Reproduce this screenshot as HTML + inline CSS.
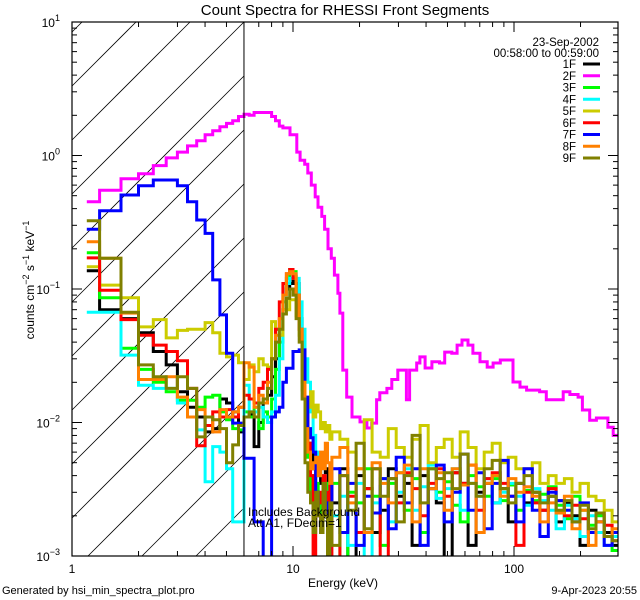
<!DOCTYPE html>
<html><head><meta charset="utf-8"><style>
html,body{margin:0;padding:0;background:#fff;width:640px;height:600px;overflow:hidden;}
svg{display:block;font-family:"Liberation Sans",sans-serif;}
</style></head><body>
<svg id="chart" width="640" height="600" viewBox="0 0 640 600" xmlns="http://www.w3.org/2000/svg">
<defs><clipPath id="plotclip"><rect x="72" y="22" width="546" height="534"/></clipPath></defs>
<text x="345" y="15" font-size="15" text-anchor="middle">Count Spectra for RHESSI Front Segments</text>
<g id="hatch"></g>
<g id="series" clip-path="url(#plotclip)"></g>
<g id="axes"></g>
<text transform="translate(34,280) rotate(-90)" font-size="12" text-anchor="middle">counts cm<tspan dy="-5" font-size="9">−2</tspan><tspan dy="5"> s</tspan><tspan dy="-5" font-size="9">−1</tspan><tspan dy="5"> keV</tspan><tspan dy="-5" font-size="9">−1</tspan></text>
<text x="343" y="587" font-size="12" text-anchor="middle">Energy (keV)</text>
<text x="248" y="516" font-size="12">Includes Background</text>
<text x="248" y="527" font-size="12">Att A1, FDecim=1</text>
<text x="599" y="46" font-size="11.5" text-anchor="end">23-Sep-2002</text>
<text x="599" y="57" font-size="11.5" text-anchor="end">00:58:00 to 00:59:00</text>
<g id="legend"></g>
<text x="2" y="594" font-size="11">Generated by hsi_min_spectra_plot.pro</text>
<text x="637" y="594" font-size="11" text-anchor="end">9-Apr-2023 20:55</text>
</svg>
<script>
var lowEdges=[1.167,1.333,1.667,2,2.333,2.667,3,3.333,3.667,4,4.333,4.667,5,5.333,5.667,6,6.333,6.667,7,7.333,7.667,8,8.333,8.667,9,9.333,9.667,10,10.33,10.67,11,11.33,11.67,12,12.33,12.67,13,13.33,13.67,14,14.33,14.67,15];
var hiEdges=[15,16.3,17.7,19.3,21,22.8,24.8,27,29.3,31.9,34.6,37.6,40.9,44.5,48.3,52.5,57.1,62,67.4,73.3,79.7,86.6,94.1,102,111,121,131,143,155,169,183,199,217,235,256,278,300];
var pinkEdges=[1.167,1.333,1.667,2,2.333,2.667,3,3.333,3.667,4,4.333,4.667,5,5.333,5.667,6,6.333,6.667,7,7.333,7.667,8,8.333,8.667,9,9.69,10.4,10.77,11.3,11.67,12.1,12.6,12.97,13.5,13.9,14.4,14.9,15.4,15.96,16.3,16.8,17.5,18.5,20.1,21.6,22.7,23.9,24.7,26.6,28.0,29.8,32.6,33.7,36.3,37.5,39.6,42.5,46.0,48.6,52.3,55.3,58.2,61.9,65.2,70.2,75.6,80.4,86.7,99,106.5,114,130.6,140,167,179,195,204,220,236,266,281,300];
var pinkVals=[0.45,0.55,0.67,0.73,0.84,0.96,1.06,1.18,1.29,1.43,1.53,1.64,1.74,1.82,1.96,2.04,2.0,2.1,2.1,2.1,2.1,1.96,1.82,1.66,1.61,1.43,1.06,0.92,0.86,0.74,0.60,0.49,0.41,0.35,0.28,0.20,0.17,0.127,0.093,0.066,0.0247,0.0155,0.011,0.0101,0.0091,0.0099,0.0148,0.0167,0.018,0.021,0.0247,0.0148,0.0247,0.0279,0.031,0.0256,0.0285,0.0279,0.0337,0.033,0.038,0.0415,0.038,0.033,0.0285,0.026,0.0279,0.0294,0.0201,0.0184,0.0175,0.017,0.0148,0.017,0.0162,0.0155,0.0124,0.0104,0.0108,0.0092,0.008];
var s1Low=[0.137,0.07,0.06,0.047,0.034,0.027,0.017,0.013,0.011,0.0085,0.009,0.015,0.014,0.012,0.0085,0.011,0.0115,0.0066,0.010,0.014,0.016,0.022,0.03,0.045,0.07,0.10,0.11,0.125,0.11,0.06,0.035,0.013,0.007,0.006,0.0045,0.004,0.005,0.0035,0.003,0.0045,0.0035,0.003];
var s1Hi=[0.0025,0.0045,0.0009,0.004,0.0032,0.0015,0.0022,0.0045,0.0028,0.0035,0.0012,0.004,0.0032,0.0025,0.0009,0.0042,0.0035,0.0012,0.003,0.0035,0.0025,0.0032,0.0018,0.0035,0.0025,0.003,0.0022,0.0028,0.0018,0.0025,0.002,0.0012,0.0022,0.0018,0.0015,0.0012];
var s3Low=[0.187,0.086,0.036,0.025,0.02,0.017,0.0147,0.0147,0.013,0.0155,0.016,0.012,0.0105,0.009,0.0088,0.012,0.011,0.013,0.009,0.012,0.011,0.015,0.025,0.04,0.08,0.12,0.14,0.135,0.1,0.05,0.02,0.008,0.0055,0.003,0.004,0.0035,0.0025,0.002,0.003,0.0035,0.0025,0.002];
var s3Hi=[0.0035,0.0008,0.003,0.0025,0.0045,0.0028,0.0012,0.0035,0.0042,0.0022,0.0038,0.0015,0.0045,0.003,0.0036,0.0024,0.0018,0.004,0.0033,0.0028,0.0038,0.0026,0.0034,0.0022,0.0031,0.0026,0.0029,0.0033,0.0024,0.0019,0.0028,0.0022,0.0017,0.002,0.0014,0.0011];
var s4Low=[0.067,0.067,0.032,0.019,0.018,0.018,0.014,0.011,0.0088,0.0036,0.0066,0.006,0.0045,0.0018,0.0018,0.019,0.012,0.012,0.013,0.011,0.010,0.012,0.016,0.03,0.07,0.11,0.12,0.13,0.12,0.08,0.05,0.03,0.02,0.012,0.008,0.006,0.005,0.004,0.004,0.003,0.003,0.0035];
var s4Hi=[0.002,0.0028,0.0012,0.0035,0.0008,0.0025,0.0038,0.0018,0.003,0.0045,0.0022,0.0033,0.0048,0.0027,0.0032,0.0045,0.0022,0.0035,0.0028,0.0038,0.0025,0.003,0.0035,0.0028,0.0024,0.0032,0.0026,0.0022,0.0016,0.0024,0.0019,0.0014,0.002,0.0015,0.0012,0.0014];
var s5Low=[0.147,0.107,0.086,0.052,0.059,0.043,0.049,0.05,0.05,0.056,0.047,0.033,0.031,0.032,0.028,0.021,0.027,0.024,0.03,0.027,0.026,0.057,0.05,0.045,0.07,0.07,0.083,0.083,0.063,0.045,0.0175,0.015,0.013,0.017,0.011,0.0135,0.012,0.009,0.01,0.0085,0.0095,0.0075];
var s5Hi=[0.0085,0.0075,0.006,0.0045,0.0105,0.006,0.0055,0.009,0.0065,0.0055,0.0075,0.0095,0.005,0.0065,0.0075,0.0055,0.0085,0.0065,0.0045,0.006,0.007,0.005,0.0055,0.0045,0.0045,0.005,0.0035,0.004,0.0035,0.0038,0.003,0.0035,0.0028,0.0026,0.0022,0.0018];
var s6Low=[0.171,0.098,0.059,0.045,0.038,0.034,0.029,0.018,0.0067,0.0095,0.012,0.011,0.0125,0.011,0.013,0.016,0.015,0.014,0.018,0.02,0.025,0.03,0.05,0.08,0.11,0.13,0.14,0.12,0.09,0.05,0.025,0.01,0.007,0.004,0.0008,0.002,0.003,0.0025,0.004,0.003,0.0008,0.0035];
var s6Hi=[0.0009,0.004,0.0028,0.0015,0.0032,0.0045,0.0008,0.0038,0.0025,0.0042,0.0032,0.002,0.0035,0.0045,0.0028,0.0042,0.0035,0.0048,0.0022,0.0038,0.0042,0.0035,0.0028,0.0012,0.003,0.0025,0.0022,0.0032,0.0026,0.002,0.0024,0.0019,0.0015,0.0021,0.0017,0.0013];
var s7Low=[0.28,0.386,0.506,0.594,0.655,0.655,0.594,0.45,0.329,0.261,0.117,0.064,0.033,0.0099,0.0099,0.0054,0.0054,0.0018,0.0018,0.0006,0.0006,0.011,0.012,0.013,0.02,0.0255,0.0255,0.034,0.034,0.035,0.035,0.0155,0.009,0.0077,0.006,0.003,0.002,0.0015,0.003,0.0025,0.0008,0.002];
var s7Hi=[0.0045,0.0015,0.0035,0.0012,0.0028,0.0021,0.0038,0.0016,0.0055,0.0025,0.0045,0.0012,0.0032,0.0048,0.0018,0.003,0.0058,0.0022,0.0042,0.0016,0.0035,0.0052,0.0028,0.0018,0.0045,0.0022,0.0014,0.003,0.0026,0.0022,0.0018,0.0025,0.0015,0.0018,0.0012,0.0015];
var s8Low=[0.226,0.17,0.066,0.021,0.021,0.022,0.0155,0.011,0.0125,0.011,0.0085,0.0125,0.011,0.012,0.013,0.028,0.026,0.013,0.016,0.014,0.02,0.03,0.045,0.06,0.09,0.13,0.135,0.13,0.09,0.05,0.02,0.009,0.006,0.0045,0.005,0.0055,0.004,0.006,0.0045,0.007,0.005,0.0035];
var s8Hi=[0.0055,0.0065,0.0025,0.0045,0.0015,0.005,0.0035,0.0025,0.0042,0.0048,0.0018,0.0045,0.0032,0.0042,0.0022,0.0045,0.0034,0.0048,0.0015,0.0035,0.004,0.0028,0.0038,0.003,0.0033,0.0028,0.0018,0.0025,0.0021,0.0028,0.0016,0.0022,0.0012,0.0018,0.0014,0.0016];
var s9Low=[0.325,0.17,0.067,0.027,0.022,0.018,0.022,0.018,0.0078,0.011,0.0105,0.009,0.005,0.0068,0.0095,0.011,0.012,0.011,0.014,0.015,0.018,0.03,0.04,0.05,0.065,0.085,0.1,0.09,0.06,0.04,0.015,0.005,0.003,0.0025,0.0015,0.003,0.002,0.0015,0.0035,0.002,0.0008,0.0025];
var s9Hi=[0.0012,0.004,0.0022,0.007,0.0016,0.0045,0.0028,0.0038,0.0018,0.004,0.008,0.0025,0.0045,0.0038,0.0042,0.0032,0.0058,0.0035,0.0028,0.0045,0.0052,0.0032,0.0025,0.0035,0.004,0.003,0.0025,0.0028,0.0022,0.0026,0.0018,0.0024,0.0016,0.0021,0.0014,0.0013];
var legendLabels=["1F","2F","3F","4F","5F","6F","7F","8F","9F"];
var xTickLabels=["1","10","100"];
var yTickExps=["1","0","−1","−2","−3"];

var NS="http://www.w3.org/2000/svg";
var X0=72,X1=618,Y0=22,Y1=556,PXDEC=221,PYDEC=(Y1-Y0)/4;
function xs(e){return X0+PXDEC*Math.log10(e);}
function ys(v){return Y0+PYDEC*(1-Math.log10(v));}
function mk(tag,attrs,parent){var el=document.createElementNS(NS,tag);for(var k in attrs)el.setAttribute(k,attrs[k]);parent.appendChild(el);return el;}
var svg=document.getElementById('chart');

var hg=document.getElementById('hatch');
var HX1=xs(6);
for(var k=-4;k<16;k++){var c=86+54*k;
 var xa=Math.max(X0,X0+c-Y1), xb=Math.min(HX1,X0+c-Y0);
 if(xb<=xa)continue;
 var hl=mk('line',{x1:xa,y1:c-(xa-X0),x2:xb,y2:c-(xb-X0),stroke:'#000','stroke-width':0.8},hg);
 
 }
var vl=mk('line',{x1:HX1,y1:Y0,x2:HX1,y2:Y1,stroke:'#000','stroke-width':1},svg);



function stepPath(edges,vals){
 var d='M'+xs(edges[0]).toFixed(1)+','+ys(vals[0]).toFixed(1);
 for(var i=0;i<vals.length;i++){
  if(i>0)d+='V'+ys(vals[i]).toFixed(1);
  d+='H'+xs(edges[i+1]).toFixed(1);}
 return d;}
var sg=document.getElementById('series');
var colors=["#000000","#ff00ff","#00ff00","#00ffff","#cccc00","#ff0000","#0000ff","#ff8000","#808000"];
var lows=[s1Low,null,s3Low,s4Low,s5Low,s6Low,s7Low,s8Low,s9Low];
var his=[s1Hi,null,s3Hi,s4Hi,s5Hi,s6Hi,s7Hi,s8Hi,s9Hi];
for(var s=0;s<9;s++){
 var d;
 if(s===1)d=stepPath(pinkEdges,pinkVals);
 else d=stepPath(lowEdges,lows[s])+stepPath(hiEdges,his[s]).replace(/^M/,'L');
 var p=mk('path',{d:d,fill:'none',stroke:colors[s],'stroke-width':3,'stroke-linejoin':'miter'},sg);
 
 
}
var ag=document.getElementById('axes');
var fr=mk('rect',{x:X0,y:Y0,width:X1-X0,height:Y1-Y0,fill:'none',stroke:'#000','stroke-width':1.2},ag);


for(var dec=0;dec<3;dec++){for(var m=1;m<10;m++){var e=m*Math.pow(10,dec);var x=xs(e);if(x>X1+0.5)continue;
 var L=(m===1)?10:5;
 var t1=mk('line',{x1:x,y1:Y1,x2:x,y2:Y1-L,stroke:'#000'},ag);
 
 
 var t2=mk('line',{x1:x,y1:Y0,x2:x,y2:Y0+L,stroke:'#000'},ag);
 
 }
 var lb=mk('text',{x:xs(Math.pow(10,dec)),y:573,'font-size':12,'text-anchor':'middle'},ag);lb.textContent=xTickLabels[dec];
 
 }
for(var p2=-3;p2<=1;p2++){for(var m=1;m<10;m++){var v=m*Math.pow(10,p2);if(v>10.01)continue;var y=ys(v);
 var L=(m===1)?10:5;
 var t3=mk('line',{x1:X0,y1:y,x2:X0+L,y2:y,stroke:'#000'},ag);
 
 
 var t4=mk('line',{x1:X1,y1:y,x2:X1-L,y2:y,stroke:'#000'},ag);
 
 }
 var yl=mk('text',{x:60,y:ys(Math.pow(10,p2))+5,'font-size':12,'text-anchor':'end'},ag);
 
 
 yl.innerHTML='10<tspan dy="-6" font-size="9">'+yTickExps[1-p2]+'</tspan>';}
var lg=document.getElementById('legend');
for(var i=0;i<9;i++){var yy=68+11.75*i;
 var tx=mk('text',{x:576,y:yy,'font-size':11.5,'text-anchor':'end'},lg);tx.textContent=legendLabels[i];
 
 
 var ln=mk('line',{x1:583,y1:yy-4,x2:600,y2:yy-4,stroke:colors[i],'stroke-width':3},lg);
 
 }
</script>
</body></html>
